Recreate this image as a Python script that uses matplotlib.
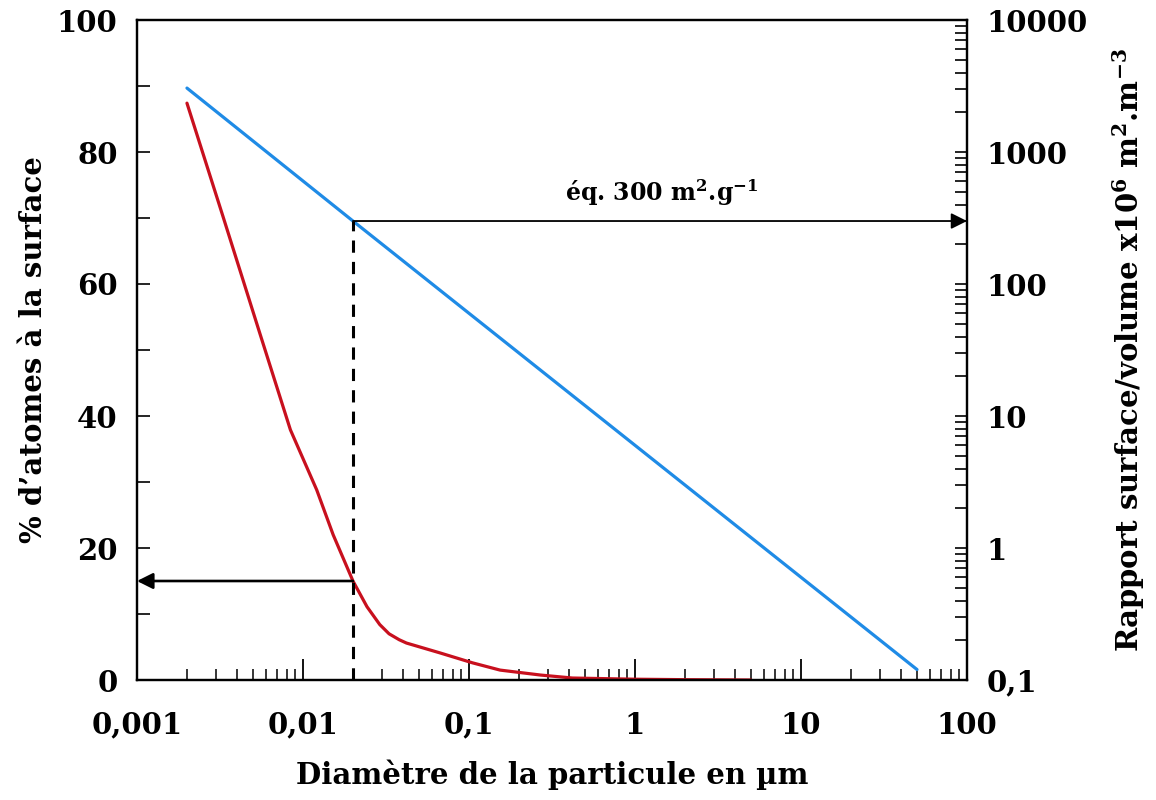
import matplotlib.pyplot as plt
from matplotlib.ticker import LogLocator, MultipleLocator, NullFormatter

plt.rcParams['font.family'] = ['DejaVu Serif']
plt.rcParams['font.weight'] = 'bold'
plt.rcParams['axes.labelweight'] = 'bold'
plt.rcParams['mathtext.fontset'] = 'dejavuserif'
plt.rcParams['mathtext.default'] = 'bf'

# % of atoms at surface (left axis)
diam_red = [0.002, 0.0033, 0.0055, 0.0084, 0.0121, 0.0152, 0.02,
            0.0243, 0.029, 0.033, 0.038, 0.042, 0.067, 0.105, 0.154, 0.27,
            0.42, 1, 2, 5]
pct_surface = [87.4, 70.2, 52.5, 37.9, 28.8, 22.0, 15.0,
               11.1, 8.4, 7.0, 6.1, 5.6, 4.1, 2.6, 1.5, 0.75,
               0.3, 0.12, 0.05, 0.0]

# surface/volume ratio (right axis)
diam_blue = [0.002, 0.02, 0.2, 2, 20, 50]
ratio_sv = [3050, 300, 30, 3, 0.3, 0.12]

x_ticks = [0.001, 0.01, 0.1, 1, 10, 100]
x_labels = ['0,001', '0,01', '0,1', '1', '10', '100']
left_ticks = [0, 20, 40, 60, 80, 100]
right_ticks = [0.1, 1, 10, 100, 1000, 10000]
right_labels = ['0,1', '1', '10', '100', '1000', '10000']

d_mark = 0.02
pct_mark = 15
ratio_mark = 300

fig, ax = plt.subplots(figsize=(11.56, 8), dpi=100)
fig.subplots_adjust(left=0.1185, right=0.8365, top=0.975, bottom=0.15)
ax2 = ax.twinx()

ax.set_xscale('log')
ax.set_xlim(0.001, 100)
ax.set_ylim(0, 100)
ax2.set_yscale('log')
ax2.set_ylim(0.1, 10000)

ax.plot(diam_red, pct_surface, color='#c8101e', lw=2.3, solid_capstyle='round',
        solid_joinstyle='round')
ax2.plot(diam_blue, ratio_sv, color='#1f8be6', lw=2.3, solid_capstyle='round')

# dashed marker at 0.02 um and the two arrows
ax2.plot([d_mark, d_mark], [0.1, ratio_mark], color='black', lw=2.2,
         dashes=(4, 3))
ax2.annotate('', xy=(100, ratio_mark), xytext=(d_mark, ratio_mark),
             arrowprops=dict(arrowstyle='-|>', lw=1.3, color='black',
                             mutation_scale=24, shrinkA=0, shrinkB=0))
ax.annotate('', xy=(0.001, pct_mark), xytext=(d_mark, pct_mark),
            arrowprops=dict(arrowstyle='-|>', lw=1.9, color='black',
                            mutation_scale=24, shrinkA=0, shrinkB=0))
ax2.text(1.45, 490, 'éq. 300 m$^{2}$.g$^{-1}$', ha='center', va='center',
         fontsize=17)

# ticks
ax.set_xticks(x_ticks)
ax.set_xticklabels(x_labels)
ax.xaxis.set_minor_locator(LogLocator(base=10, subs=range(2, 10)))
ax.xaxis.set_minor_formatter(NullFormatter())
ax.tick_params(axis='x', which='major', direction='in', length=15, width=1.3,
               pad=22, labelsize=21)
ax.tick_params(axis='x', which='minor', direction='in', length=8, width=1.1)

ax.set_yticks(left_ticks)
ax.yaxis.set_minor_locator(MultipleLocator(10))
ax.tick_params(axis='y', which='both', direction='in', length=9, width=1.2,
               pad=14, labelsize=21)

ax2.set_yticks(right_ticks)
ax2.set_yticklabels(right_labels)
ax2.yaxis.set_minor_locator(LogLocator(base=10, subs=range(2, 10)))
ax2.yaxis.set_minor_formatter(NullFormatter())
ax2.tick_params(axis='y', which='both', direction='in', length=9, width=1.2,
                pad=14, labelsize=21)

for a in (ax, ax2):
    for s in a.spines.values():
        s.set_linewidth(1.6)

ax.set_xlabel('Diamètre de la particule en µm', fontsize=21, labelpad=14)
ax.set_ylabel('% d’atomes à la surface', fontsize=21, labelpad=6)
ax2.set_ylabel('Rapport surface/volume x10$^{6}$ m$^{2}$.m$^{-3}$',
               fontsize=21, labelpad=16)

fig.savefig('out.png', dpi=100)
